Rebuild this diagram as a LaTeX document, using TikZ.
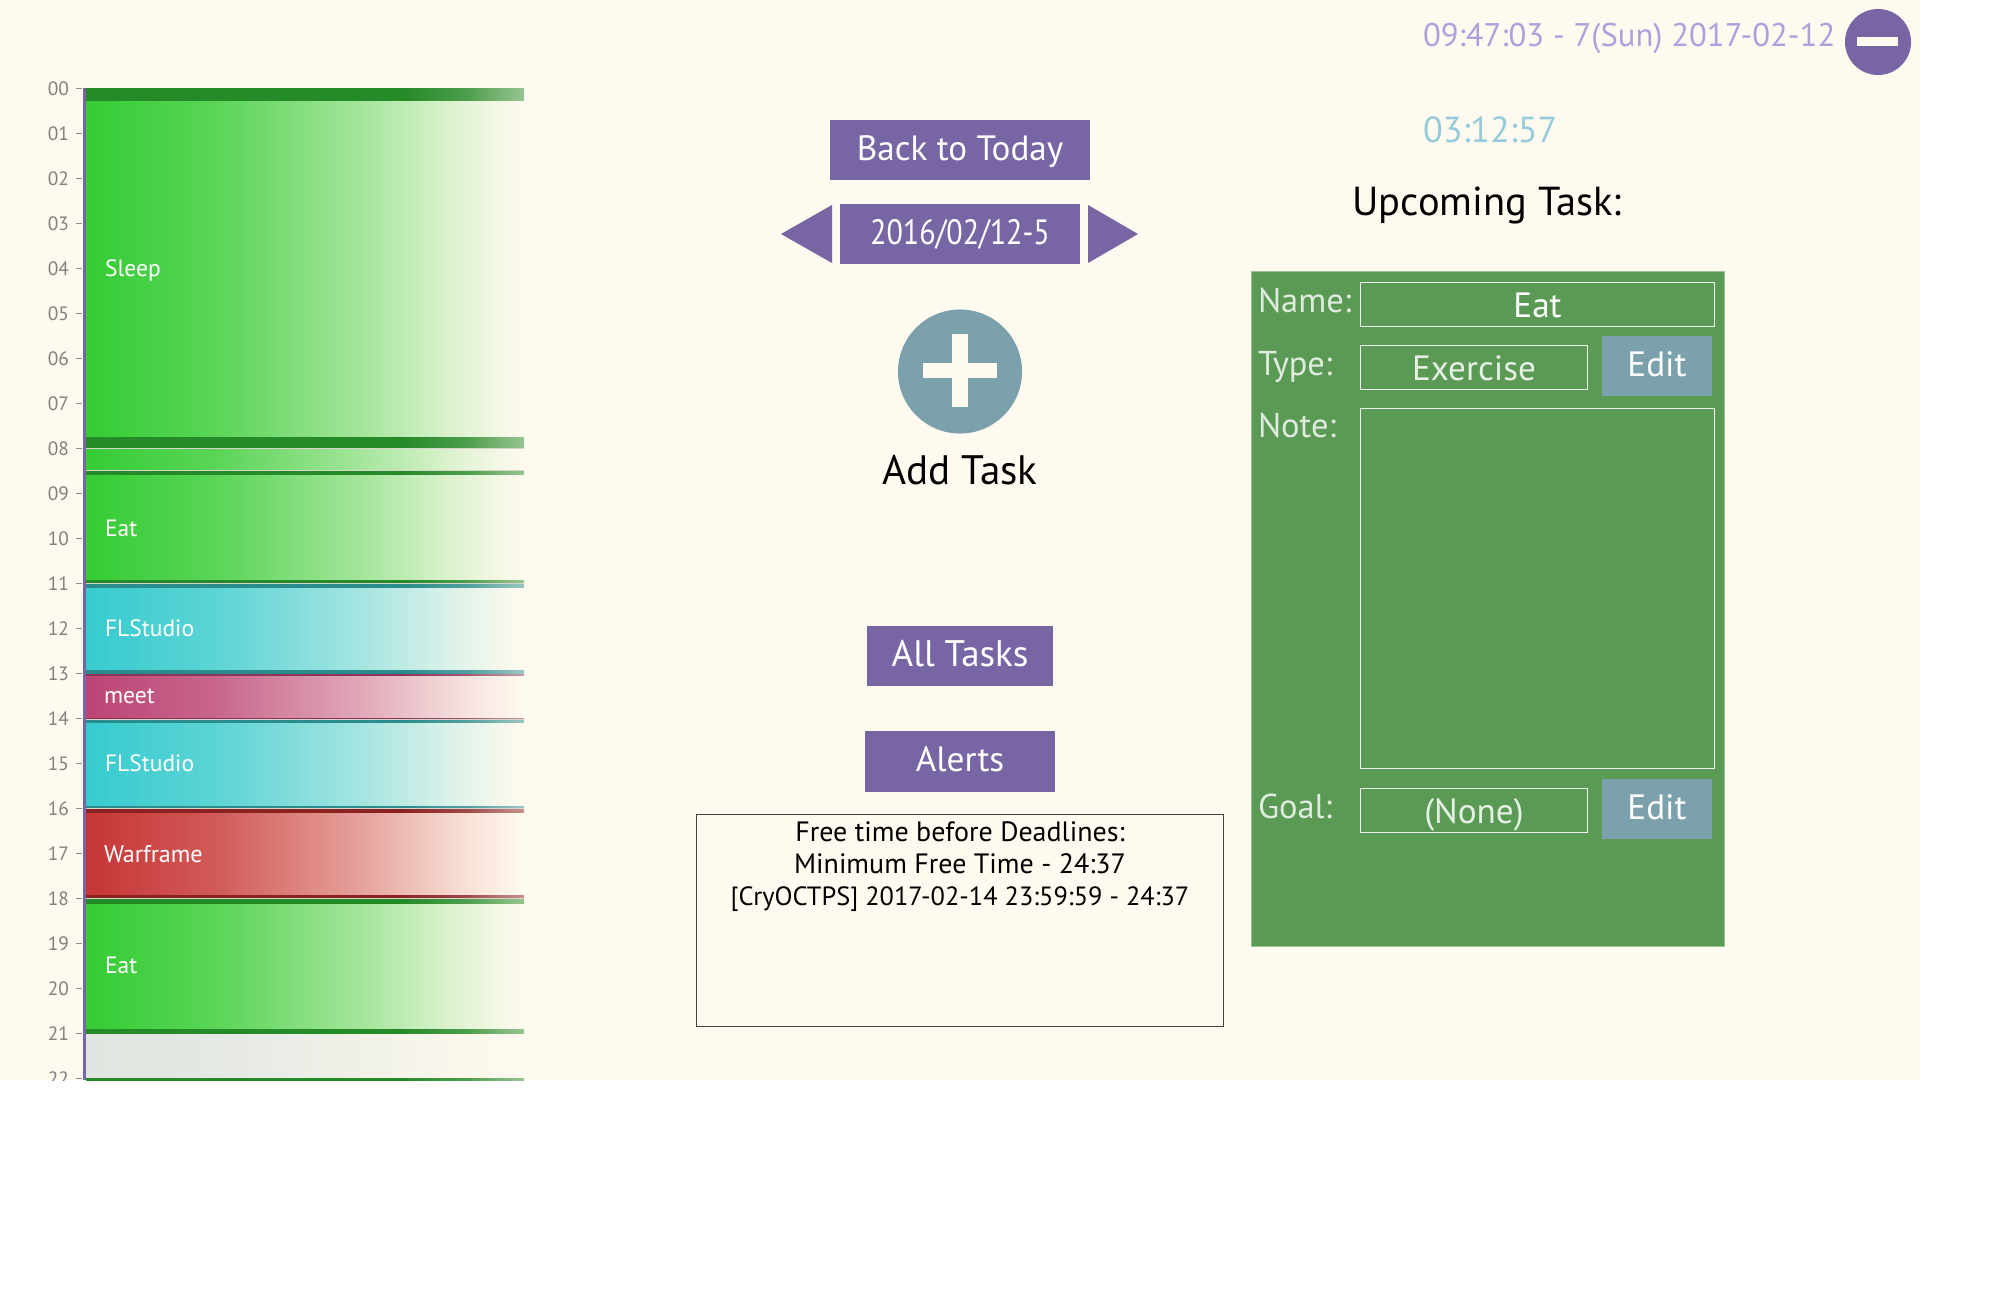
\documentclass[tikz,border=0pt]{standalone}
\usepackage{fontspec}
\setmainfont{PT Sans}

\definecolor{pagebg}{HTML}{FFFAEF}
\definecolor{btnpurple}{HTML}{7866A4}
\definecolor{btnblue}{HTML}{7BA1AD}
\definecolor{panelgreen}{HTML}{5A9A55}
\definecolor{clockpurple}{HTML}{AFA0DC}
\definecolor{clockblue}{HTML}{95CBDB}
\definecolor{grnbar}{HTML}{35CC35}
\definecolor{grnband}{HTML}{258A28}
\definecolor{tealbar}{HTML}{37CBCF}
\definecolor{tealband}{HTML}{2A8C8C}
\definecolor{magbar}{HTML}{BC4476}
\definecolor{magband}{HTML}{8A3358}
\definecolor{redbar}{HTML}{C63636}
\definecolor{redband}{HTML}{8A2222}
\definecolor{greybar}{HTML}{DFE5E0}

\pgfdeclarehorizontalshading[barcol]{barfade}{100bp}{color(0bp)=(barcol); color(25bp)=(barcol); color(39.5bp)=(barcol!82!pagebg); color(56bp)=(barcol!46!pagebg); color(68bp)=(barcol!14!pagebg); color(75bp)=(pagebg); color(100bp)=(pagebg)}
\pgfdeclarehorizontalshading[barcol]{bandfade}{100bp}{color(0bp)=(barcol); color(61bp)=(barcol); color(68.5bp)=(barcol!82!pagebg); color(72.5bp)=(barcol!60!pagebg); color(75bp)=(barcol!48!pagebg); color(100bp)=(barcol!48!pagebg)}

\newcommand{\fsz}[1]{\fontsize{#1pt}{#1pt}\selectfont}

\begin{document}
\begin{tikzpicture}[x=0.01cm, y=-0.01cm,
    every node/.style={inner sep=0pt, outer sep=0pt},
    hourlabel/.style={anchor=east, text=black!50, font=\fsz{5.5}},
    barlabel/.style={anchor=base west, text=white, font=\fsz{6.7}},
    btn/.style={fill=btnpurple, text=white, font=\fsz{10}, text height=7.1pt, text depth=1.3pt},
    editbtn/.style={fill=btnblue, text=white, font=\fsz{10}, minimum width=1.10cm, minimum height=0.6cm, text height=7.1pt, text depth=1.2pt},
    field/.style={draw=white!90!panelgreen, line width=0.009cm, text=white!85!panelgreen, font=\fsz{10}, text height=7.5pt, text depth=0pt},
    fieldlabel/.style={anchor=base west, text=white!80!panelgreen, font=\fsz{9.8}}
    ]
    \useasboundingbox (0, 0) rectangle (2004, 1312);
    \fill[white] (0, 0) rectangle (2004, 1312);
    \fill[pagebg] (0, 0) rectangle (1920, 1080);

    % day column, cut off at the page edge
    \begin{scope}
        \clip (0, 0) rectangle (1920, 1080);
        \foreach \ya/\yb/\colr in {100/437/grnbar, 449/470/grnbar, 474/580/grnbar, 587/670/tealbar, 675/718/magbar, 722/806/tealbar, 812/895/redbar, 903/1029/grnbar, 1033/1078/greybar}{
            \colorlet{barcol}{\colr}
            \shade[shading=barfade] (86, \ya) rectangle (524, \yb);
        }
        \foreach \ya/\yb/\colr in {88/100/grnband, 437/448/grnband, 471/474/grnband, 580/583/grnband, 584/587/tealband, 670/674/tealband, 674/675/magband, 718/719/magband, 720/722/tealband, 806/807.5/tealband, 809/812/redband, 895/898/redband, 899/903/grnband, 1029/1033/grnband, 1078/1080/grnband}{
            \colorlet{barcol}{\colr}
            \shade[shading=bandfade] (86, \ya) rectangle (524, \yb);
        }
        \foreach \y in {448.5, 470.5, 583.5, 719.5, 808, 898.5}{
            \fill[black!15!pagebg] (86, \y-0.5) rectangle (524, \y+0.5);
        }
        \fill[btnpurple] (83, 88) rectangle (86, 1080);
        \foreach \h in {0,...,22}{
            \draw[black!45, line width=0.01cm] (76, {88.5+45*\h}) -- (81.5, {88.5+45*\h});
            \node[hourlabel] (hour\h) at (69, {88.5+45*\h}) {\ifnum\h<10 0\fi\h};
        }
    \end{scope}

    \node[barlabel] (sleep) at (105, 276) {Sleep};
    \node[barlabel] (eatA) at (105, 536) {Eat};
    \node[barlabel] (flstudioA) at (105, 636) {FLStudio};
    \node[barlabel] (meet) at (104, 703) {meet};
    \node[barlabel] (flstudioB) at (105, 771) {FLStudio};
    \node[barlabel, font=\fsz{6.85}] (warframe) at (104, 862) {Warframe};
    \node[barlabel] (eatB) at (105, 973) {Eat};

    % middle column
    \node[btn, minimum width=2.6cm, minimum height=0.6cm] (backtoday) at (960, 150) {Back to Today};
    \node[btn, text depth=0.9pt, minimum width=2.4cm, minimum height=0.6cm] (datebtn) at (960, 234) {\scalebox{0.855}[1]{2016/02/12-5}};
    \fill[btnpurple] (781, 234) -- (832, 205) -- (832, 263) -- cycle;
    \fill[btnpurple] (1138, 234) -- (1088, 205) -- (1088, 263) -- cycle;

    \node[circle, fill=btnblue, minimum size=1.24cm] (addcircle) at (960, 371.5) {};
    \fill[pagebg] (923, 363) rectangle (997, 378);
    \fill[pagebg] (952, 334) rectangle (968, 407);
    \node[anchor=base, font=\fsz{11.7}] (addtask) at (960, 484) {Add Task};

    \node[btn, font=\fsz{10.5}, minimum width=1.855cm, minimum height=0.6cm] (alltasks) at (960, 656) {All Tasks};
    \node[btn, minimum width=1.9cm, minimum height=0.61cm] (alerts) at (960, 761.5) {Alerts};

    \node[draw=black!75, line width=0.01cm, minimum width=5.27cm, minimum height=2.11cm] (freebox) at (960, 920.5) {};
    \node[anchor=base, align=center, font=\fontsize{7.5pt}{9pt}\selectfont] (freetext) at (960, 905) {\fontsize{7.95pt}{9pt}\selectfont Free time before Deadlines:\\\fontsize{7.95pt}{9pt}\selectfont Minimum Free Time - 24:37\\{}[CryOCTPS] 2017-02-14 23:59:59 - 24:37};

    % right column
    \node[anchor=base west, text=clockpurple, font=\fsz{9.3}] (clock) at (1423, 47) {09:47:03 - 7(Sun) 2017-02-12};
    \node[circle, fill=btnpurple, minimum size=0.66cm] (minuscircle) at (1878, 42) {};
    \fill[pagebg] (1857, 37) rectangle (1898, 46);
    \node[anchor=base west, text=clockblue, font=\fsz{10.3}] (countdown) at (1423, 142) {03:12:57};
    \node[anchor=base, font=\fsz{11.5}] (upcoming) at (1487, 215) {Upcoming Task:};

    \node[fill=panelgreen, draw=panelgreen!60!pagebg, line width=0.01cm, minimum width=4.73cm, minimum height=6.74cm] (panel) at (1488, 609) {};
    \node[field, text=white, minimum width=3.54cm, minimum height=0.44cm] (namebox) at (1537.5, 304) {Eat};
    \node[field, minimum width=2.27cm, minimum height=0.44cm] (typebox) at (1474, 367) {Exercise};
    \node[field, minimum width=3.54cm, minimum height=3.59cm] (notebox) at (1537.5, 588.5) {};
    \node[field, minimum width=2.27cm, minimum height=0.44cm] (goalbox) at (1474, 810) {(None)};
    \node[editbtn] (editA) at (1657, 366) {Edit};
    \node[editbtn] (editB) at (1657, 809) {Edit};

    \node[fieldlabel] (namelabel) at (1258, 312) {Name:};
    \node[fieldlabel] (typelabel) at (1258, 375) {Type:};
    \node[fieldlabel] (notelabel) at (1258, 437) {Note:};
    \node[fieldlabel] (goallabel) at (1258, 818) {Goal:};
\end{tikzpicture}
\end{document}
